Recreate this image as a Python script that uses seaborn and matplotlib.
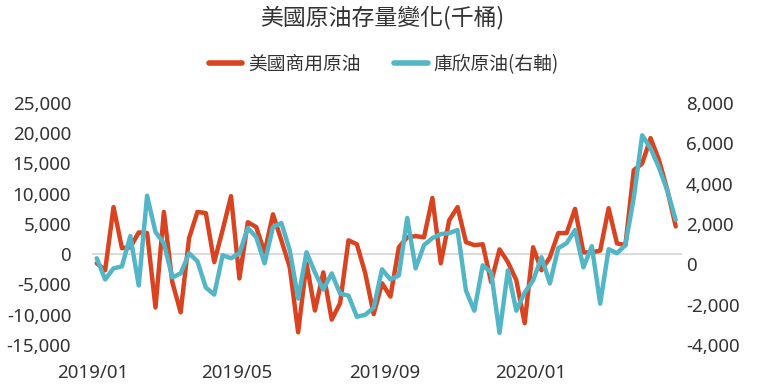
import numpy as np
import pandas as pd
import seaborn as sns
import matplotlib.pyplot as plt
import matplotlib.dates as mdates
from matplotlib.ticker import FuncFormatter

# ==================== DATA ====================

dates = pd.date_range("2019-01-04", periods=70, freq="7D")

us_crude = [
    -1500, -2650, 7800, 1000, 1150, 3600, 3500, -8800, 7000, -4600,
    -9600, 2650, 7000, 6800, -1300, 4000, 9600, -4000, 5300, 4500,
    300, 6600, 2300, -2150, -12900, -1500, -9300, -3000, -10800, -8100,
    2300, 1650, -3150, -9900, -4800, -7000, 1150, 2800, 3000, 2800,
    9300, -1500, 5600, 7800, 2000, 1500, 1650, -4600, 800, -1300,
    -4300, -11400, 1150, -2650, -500, 3500, 3500, 7500, 300, 300,
    600, 7600, 1800, 1500, 13900, 15000, 19200, 15600, 10600, 4600,
]

cushing = [
    300, -750, -200, -100, 1400, -1050, 3400, 1600, 1050, -650,
    -450, 550, 150, -1150, -1500, 450, 300, 550, 1800, 1350,
    50, 1850, 2050, 700, -1700, 600, -400, -1250, -450, -1450,
    -1550, -2600, -2500, -2150, -250, -750, -550, 2300, -200, 950,
    1300, 1500, 1550, 1700, -1300, -2300, -50, -400, -3400, -300,
    -2300, -1400, -800, 350, -950, 800, 1050, 1700, -150, 900,
    -1950, 750, 550, 950, 3300, 6400, 5750, 4800, 3650, 2200,
]

label_us = "美國商用原油"
label_cushing = "庫欣原油(右軸)"
title = "美國原油存量變化(千桶)"

df = pd.DataFrame({"date": dates, "us": us_crude, "cushing": cushing})

# ==================== PLOT ====================

sns.set_style("white")
plt.rcParams["font.family"] = ["Noto Sans", "Noto Sans CJK TC", "DejaVu Sans"]
cjk = ["Noto Sans CJK TC", "DejaVu Sans"]

red = "#DA4320"
teal = "#52B6C6"

fig = plt.figure(figsize=(7.6, 3.84), dpi=100)
ax = fig.add_axes([0.121, 0.1016, 0.776, 0.6302])
ax2 = ax.twinx()

ax.axhline(0, color="#d4d4d4", lw=1.2, zorder=0)
sns.lineplot(data=df, x="date", y="us", ax=ax, color=red, lw=3.2,
             label=label_us, legend=False)
sns.lineplot(data=df, x="date", y="cushing", ax=ax2, color=teal, lw=3.2,
             label=label_cushing, legend=False)

ax.set_ylim(-15000, 25000)
ax.set_yticks(np.arange(-15000, 25001, 5000))
ax2.set_ylim(-4000, 8000)
ax2.set_yticks(np.arange(-4000, 8001, 2000))

fmt = FuncFormatter(lambda v, p: f"{int(v):,}")
ax.yaxis.set_major_formatter(fmt)
ax2.yaxis.set_major_formatter(fmt)

ax.set_xlim(pd.Timestamp("2018-12-31"), pd.Timestamp("2020-05-06"))
ax.set_xticks(pd.to_datetime(["2019-01-01", "2019-05-01", "2019-09-01", "2020-01-01"]))
ax.xaxis.set_major_formatter(mdates.DateFormatter("%Y/%m"))

for a in (ax, ax2):
    a.set_xlabel("")
    a.set_ylabel("")
    for s in a.spines.values():
        s.set_visible(False)
    a.grid(False)

ax.tick_params(axis="y", length=0, pad=15, labelsize=13.5, labelcolor="#333333")
ax2.tick_params(axis="y", length=0, pad=3, labelsize=13.5, labelcolor="#333333")
ax.tick_params(axis="x", length=0, pad=14, labelsize=13.5, labelcolor="#333333")

fig.text(0.503, 0.955, title, ha="center", va="center", fontsize=16.5,
         family=cjk, color="#333333")

h1, l1 = ax.get_legend_handles_labels()
h2, l2 = ax2.get_legend_handles_labels()
leg = fig.legend(h1 + h2, l1 + l2, loc="center", bbox_to_anchor=(0.505, 0.833),
                 ncol=2, frameon=False, handlelength=1.8, handletextpad=0.3,
                 columnspacing=1.8, prop={"family": cjk, "size": 13.5})
for t in leg.get_texts():
    t.set_color("#333333")
for line in leg.get_lines():
    line.set_linewidth(4)

plt.savefig("out.png", dpi=100)
plt.close()
